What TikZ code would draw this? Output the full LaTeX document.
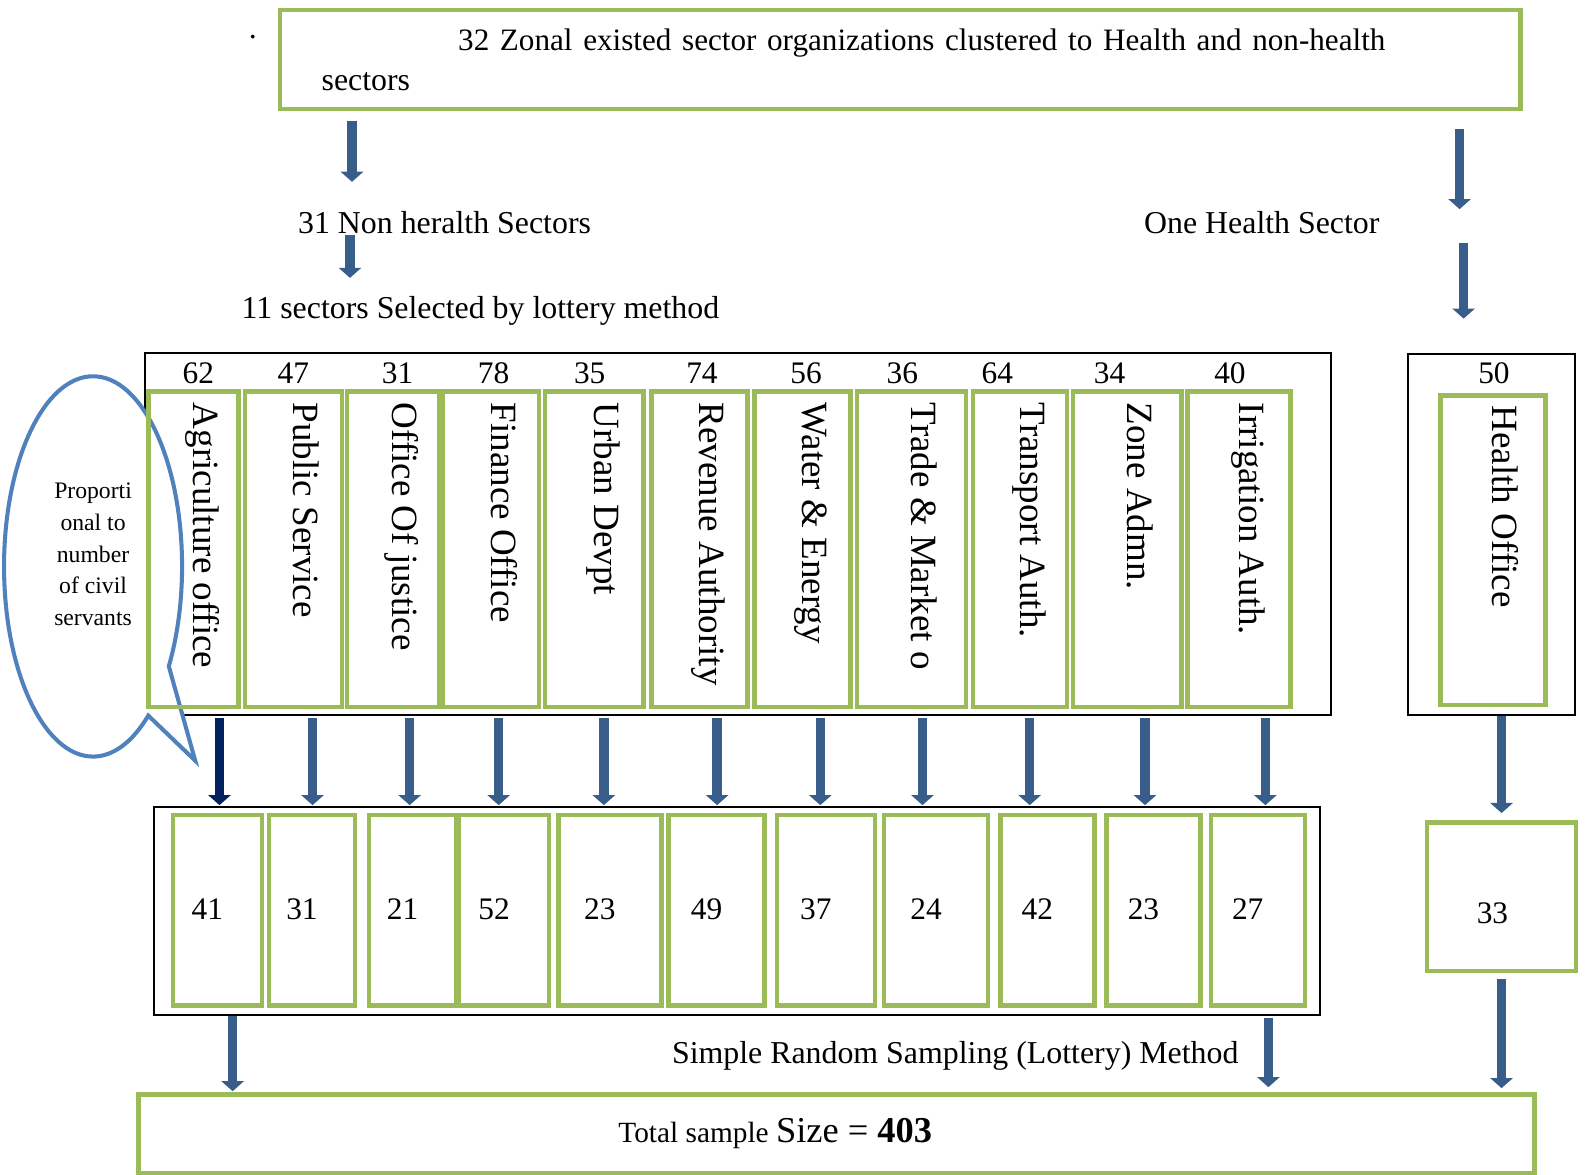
\documentclass[tikz,border=0pt]{standalone}
\usepackage{fontspec}
\setmainfont{Liberation Serif}
\usepackage{xcolor}
\usepackage{tikz}
\usetikzlibrary{arrows.meta}
\usetikzlibrary{shapes.callouts}
\definecolor{boxgreen}{HTML}{9BBB59}
\definecolor{arrowblue}{HTML}{385D8A}
\definecolor{navy}{HTML}{002060}
\definecolor{calloutblue}{HTML}{4F81BD}
\tikzset{gbox/.style={draw=boxgreen, line width=2.2pt, inner sep=0pt}}
\tikzset{panel/.style={draw=black, line width=1pt, inner sep=0pt}}
\tikzset{flow/.style={draw=arrowblue, line width=4.7pt, -{Triangle[width=11pt,length=5pt]}}}
\tikzset{txt/.style={inner sep=0pt, font=\fontsize{15.75}{20}\selectfont}}
\tikzset{numtxt/.style={inner sep=0pt, font=\fontsize{15.5}{18}\selectfont}}
\tikzset{vtext/.style={rotate=-90, anchor=base west, inner sep=0pt, font=\fontsize{18.3}{20}\selectfont}}
\tikzset{bubble/.style={ellipse callout, draw=calloutblue, line width=2pt, fill=white, callout pointer arc=20}}
\tikzset{bubbletxt/.style={inner sep=0pt, align=center, font=\fontsize{11.7}{15.75}\selectfont}}

\begin{document}
\begin{tikzpicture}[x=0.5pt,y=-0.5pt]
\useasboundingbox (0,0) rectangle (1568,1161);
% panels round the two rows
\node[panel, minimum width=586.5pt, minimum height=179pt] (rowA) at (729.5,528) {};
\node[panel, minimum width=82.5pt, minimum height=178.5pt] (hframe) at (1474.5,528.5) {};
\node[panel, minimum width=576.5pt, minimum height=102.5pt] (rowB) at (728.5,900.5) {};
% callout
\node[bubble, minimum width=88pt, minimum height=188pt, callout absolute pointer={(193,752)}] (note) at (92,560) {};
\node[bubbletxt] (notetxt) at (92,548) {Proporti\\onal to\\number\\of civil\\servants};
% top
\node[gbox, txt, minimum width=613pt, minimum height=49pt, inner xsep=20.5pt, text width=572pt, align=left] (zonal) at (890,59)
  {\hspace*{67.5pt}\mbox{\fontsize{15.4}{20}\selectfont 32 Zonal existed sector organizations clustered to Health and non-health}\\sectors};
\node[txt, anchor=base] (dot) at (250,38) {.};
\node[txt, anchor=base] (nonh) at (439.5,231) {31 Non heralth Sectors};
\node[txt, anchor=base] (lottery) at (475,315) {11 sectors Selected by lottery method};
\node[txt, anchor=base] (oneh) at (1247.5,231) {One Health Sector};
\draw[flow, shorten <=4.5pt, shorten >=14.5pt] (348,0 |- zonal.south) -- (348,0 |- nonh.north);
\draw[flow, shorten <=0.5pt, shorten >=9pt] (346,0 |- nonh.south) -- (346,0 |- lottery.north);
\draw[flow, shorten <=8.5pt, shorten >=1pt] (1443,0 |- zonal.south) -- (1443,0 |- oneh.north);
\draw[flow, shorten <=4.5pt, shorten >=17pt] (1447,0 |- oneh.south) -- (1447,0 |- hframe.north);
% selected sectors
\foreach \l/\r/\num/\numx/\name [count=\i] in {147/236/62/196/Agriculture office, 242/338/47/290/Public Service,
  343/434/31/393/Office Of justice, 438/533/78/488/Finance Office, 539/636/35/583/Urban Devpt,
  644/739/74/694/Revenue Authority, 746/841/56/797/Water \& Energy, 847/955/36/892/Trade \& Market o,
  962/1055/64/986/Transport Auth., 1061/1168/34/1097/Zone Admn., 1174/1276/40/1216/Irrigation Auth.}
{
  \pgfmathsetmacro\w{(\r-\l)*0.5}
  \node[gbox, minimum width=\w pt, minimum height=156pt] (s\i) at ({(\l+\r)/2},543) {};
  \node[vtext] (t\i) at ([yshift=-6.5pt]s\i.north) {\name};
  \node[numtxt] (n\i) at (\numx,369) {\num};
}
% samples
\foreach \l/\r/\val [count=\i] in {171/259/41, 266/351/31, 365/451/21, 454/543/52, 552/654/23, 661/756/49,
  768/865/37, 874/977/24, 989/1082/42, 1094/1187/23, 1197/1290/27}
{
  \pgfmathsetmacro\w{(\r-\l)*0.5}
  \node[gbox, minimum width=\w pt, minimum height=94pt] (r\i) at ({(\l+\r)/2},900) {};
  \node[numtxt] (v\i) at ({(\l+\r)/2-10},899) {\val};
}
\foreach \ax/\ac in {217/navy, 309/arrowblue, 405/arrowblue, 493/arrowblue, 597/arrowblue, 709/arrowblue,
  811/arrowblue, 912/arrowblue, 1018/arrowblue, 1132/arrowblue, 1251/arrowblue}
  \draw[flow, draw=\ac, shorten <=1pt, shorten >=0.5pt] (\ax,0 |- rowA.south) -- (\ax,0 |- rowB.north);
% health sector
\node[numtxt] (hnum) at (1477,369) {50};
\node[gbox, minimum width=52pt, minimum height=153pt] (hoff) at (1476,544) {};
\node[vtext] (htxt) at ([yshift=-6pt]hoff.north) {Health Office};
\node[gbox, minimum width=73.5pt, minimum height=73.5pt] (hsmp) at (1484.5,886.5) {};
\node[numtxt] (hval) at (1475.5,903) {33};
\draw[flow, shorten >=3.5pt] (hsmp |- hframe.south) -- (hsmp.north);
% total
\node[txt, anchor=base west] (srs) at (664,1051) {Simple Random Sampling (Lottery) Method};
\node[gbox, minimum width=690pt, minimum height=39pt] (total) at (827,1121) {};
\node[inner sep=0pt, anchor=base west] (totaltxt) at (611,1130)
  {\fontsize{14.5}{16}\selectfont Total sample \fontsize{18}{20}\selectfont Size = \textbf{403}};
\draw[flow, shorten >=0.5pt] (230,0 |- rowB.south) -- (230,0 |- total.north);
\draw[flow, shorten <=1pt, shorten >=2.5pt] (1254,0 |- rowB.south) -- (1254,0 |- total.north);
\draw[flow, shorten <=3pt, shorten >=2pt] (hsmp.south) -- (hsmp |- total.north);
\end{tikzpicture}
\end{document}
